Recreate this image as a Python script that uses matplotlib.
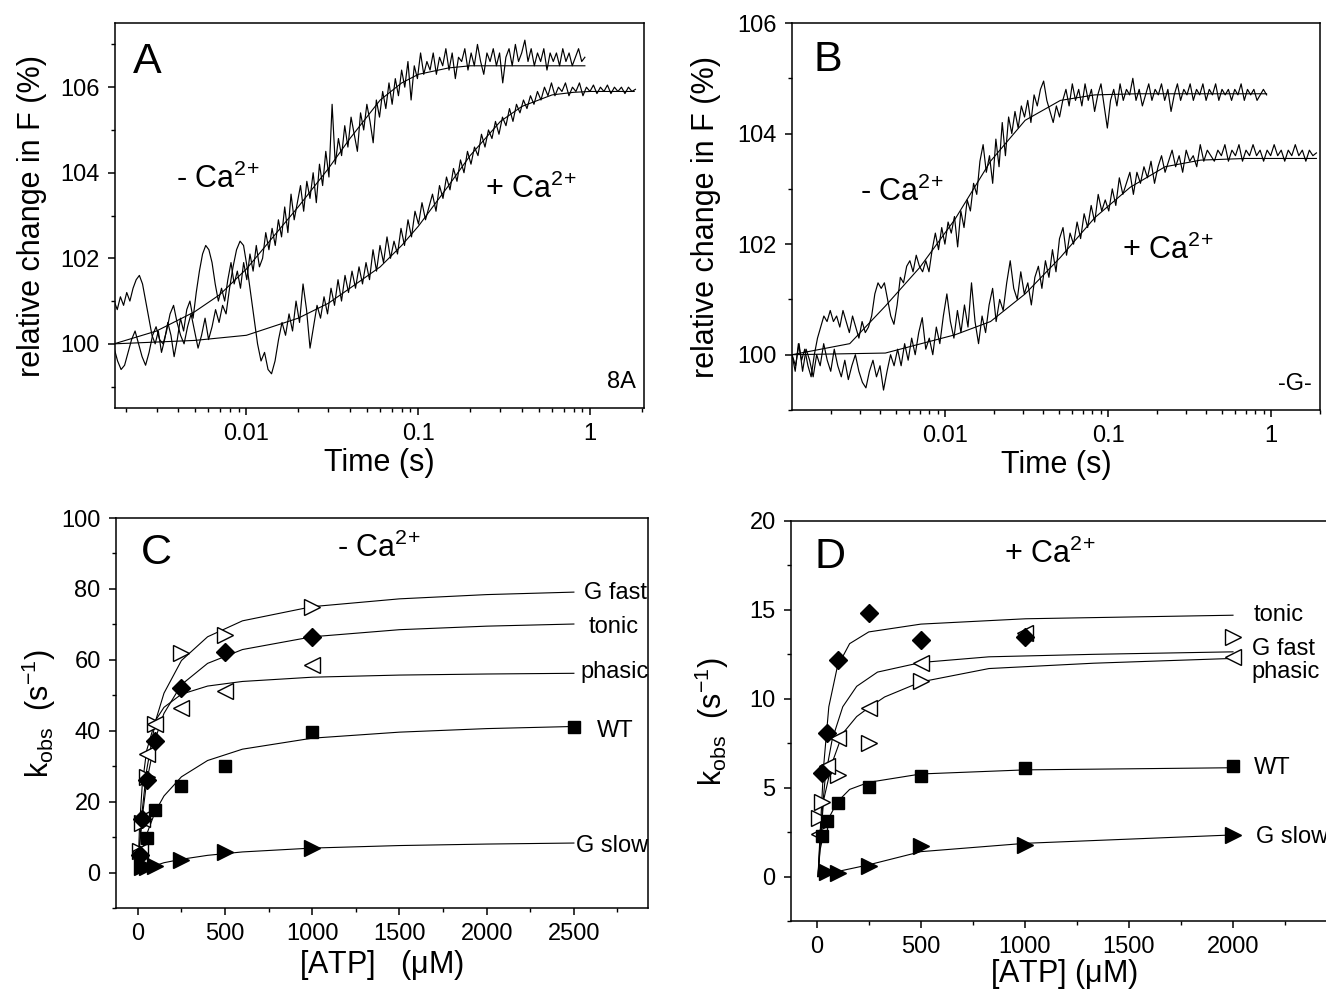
import numpy as np
import matplotlib.pyplot as plt
from matplotlib.ticker import LogLocator, NullFormatter, MultipleLocator

plt.rcParams['font.family'] = ['Liberation Sans', 'DejaVu Sans']
plt.rcParams['mathtext.default'] = 'regular'

# ---- panel A : stopped-flow traces (8A) ----
a_minus_trange = (0.0017, 0.93)
a_minus = [101.0, 100.8, 101.1, 100.9, 101.2, 101.0, 101.3, 101.5, 101.6, 101.4,
           101.0, 100.6, 100.2, 100.0, 100.3, 99.8, 100.1, 100.5, 100.2, 99.7,
           100.1, 100.6, 100.3, 100.8, 101.0, 100.6, 101.2, 101.7, 102.1, 102.3,
           102.2, 101.9, 101.4, 101.0, 101.3, 101.0, 101.5, 101.9, 101.4, 101.7,
           101.3, 101.9, 101.5, 102.1, 101.7, 102.3, 101.8, 102.0, 102.6, 102.2,
           102.7, 102.3, 102.9, 102.5, 103.2, 102.6, 103.5, 102.9, 103.3, 103.7,
           103.1, 103.8, 103.4, 104.0, 103.3, 104.2, 103.7, 104.5, 103.9, 105.6,
           104.2, 104.8, 104.4, 105.1, 104.6, 105.3, 104.9, 104.5, 105.4, 105.0,
           105.6, 105.2, 104.7, 105.7, 105.3, 105.9, 105.5, 106.1, 105.6, 106.2,
           105.8, 106.4, 106.0, 106.6, 105.7, 106.5, 106.2, 106.8, 106.3, 106.6,
           106.4, 106.8, 106.3, 106.7, 106.5, 106.9, 106.4, 106.8, 106.2, 106.7,
           106.6, 106.9, 106.4, 106.8, 106.5, 107.0, 106.6, 106.3, 106.8, 106.6,
           106.9, 106.5, 106.8, 106.1, 106.7, 106.9, 106.5, 107.0, 106.6, 106.8,
           107.1, 106.6, 106.9, 106.5, 106.8, 106.6, 106.9, 106.4, 106.8, 106.6,
           106.8, 106.5, 106.9, 106.6, 106.8, 106.5, 106.7, 106.9, 106.6, 106.7]
a_plus_trange = (0.0017, 1.83)
a_plus = [99.9, 99.6, 99.4, 99.5, 99.8, 100.1, 100.3, 100.0, 99.7, 99.5,
          99.8, 100.2, 100.4, 100.1, 100.0, 100.3, 100.7, 100.9, 100.5, 100.2,
          100.0, 100.4, 100.7, 100.3, 99.9, 100.2, 100.6, 100.1, 100.4, 100.8,
          100.5, 100.9, 100.7, 101.3, 101.8, 102.2, 102.4, 102.3, 101.8, 101.2,
          100.6, 100.0, 99.6, 99.8, 99.4, 99.3, 99.6, 100.1, 100.5, 100.2,
          100.7, 100.3, 101.0, 100.5, 101.4, 100.8, 99.9, 100.4, 100.9, 100.6,
          101.1, 100.7, 101.3, 100.9, 101.5, 101.0, 101.6, 101.2, 101.7, 101.3,
          101.8, 101.4, 101.9, 101.5, 102.2, 101.7, 102.3, 101.9, 102.5, 102.0,
          102.4, 102.1, 102.7, 102.3, 102.9, 102.5, 103.1, 102.8, 103.3, 102.9,
          103.2, 103.5, 103.1, 103.7, 103.4, 103.9, 103.6, 104.1, 103.8, 104.3,
          104.0, 104.5, 104.2, 104.6, 104.4, 104.9, 104.6, 105.0, 104.8, 105.2,
          104.9, 105.3, 105.1, 105.5, 105.2, 105.6, 105.4, 105.7, 105.5, 105.8,
          105.6, 105.9, 105.7, 106.0, 105.8, 106.1, 105.8, 106.0, 105.9, 106.1,
          105.8, 106.0, 105.9, 106.1, 105.8, 106.0, 105.9, 106.05, 105.85, 106.0,
          105.9, 106.05, 105.85, 106.0, 105.9, 106.0, 105.85, 106.0, 105.9, 105.95]
a_fit_minus_t = [0.0017, 0.003, 0.005, 0.007, 0.01, 0.015, 0.02, 0.03, 0.04, 0.06,
                 0.08, 0.1, 0.15, 0.2, 0.3, 0.5, 0.93]
a_fit_minus = [100.0, 100.3, 100.75, 101.15, 101.75, 102.6, 103.2, 104.1, 104.8, 105.7,
               106.1, 106.3, 106.45, 106.5, 106.5, 106.5, 106.5]
a_fit_plus_t = [0.0017, 0.005, 0.01, 0.02, 0.03, 0.04, 0.06, 0.08, 0.1, 0.15,
                0.2, 0.3, 0.4, 0.6, 0.8, 1.0, 1.8]
a_fit_plus = [100.0, 100.08, 100.2, 100.6, 100.95, 101.3, 101.8, 102.3, 102.75, 103.7,
              104.4, 105.2, 105.55, 105.82, 105.88, 105.9, 105.9]

# ---- panel B : stopped-flow traces (-G-) ----
b_minus_trange = (0.00115, 0.94)
b_minus = [100.0, 99.7, 100.2, 99.9, 100.1, 99.8, 99.6, 100.0, 100.3, 100.5,
           100.7, 100.6, 100.8, 100.6, 100.7, 100.5, 100.8, 100.6, 100.4, 100.7,
           100.5, 100.3, 100.6, 100.4, 100.5, 100.7, 101.1, 101.3, 101.2, 101.3,
           101.0, 100.7, 100.55, 100.9, 101.4, 101.3, 101.6, 101.7, 101.5, 101.8,
           101.6, 101.5, 101.7, 101.5, 101.9, 102.2, 101.9, 102.3, 102.0, 102.4,
           102.2, 102.5, 101.95, 102.6, 102.3, 102.8, 102.6, 103.1, 102.9, 103.5,
           103.8, 103.3, 103.6, 103.1, 103.9, 103.4, 104.2, 103.6, 104.3, 104.0,
           104.4, 104.1, 104.5, 104.3, 104.6, 104.2, 104.7, 104.5, 104.8, 104.95,
           104.6, 104.4, 104.2, 104.5, 104.3, 104.6, 104.8, 104.5, 104.9, 104.6,
           104.8, 104.5, 104.9, 104.6, 104.8, 104.4, 104.7, 104.9, 104.5, 104.1,
           104.6, 104.8, 104.5, 104.9, 104.6, 104.8, 104.7, 105.0, 104.6, 104.8,
           104.5, 104.7, 104.9, 104.6, 104.8, 104.7, 104.9, 104.6, 104.8, 104.4,
           104.7, 104.9, 104.6, 104.8, 104.7, 104.9, 104.6, 104.8, 104.7, 104.9,
           104.6, 104.8, 104.7, 104.9, 104.6, 104.8, 104.7, 104.8, 104.6, 104.8,
           104.7, 104.9, 104.6, 104.8, 104.7, 104.8, 104.6, 104.7, 104.8, 104.7]
b_plus_trange = (0.00115, 1.9)
b_plus = [100.0, 99.8, 100.2, 99.7, 100.1, 99.9, 99.6, 100.0, 99.8, 100.2,
          99.9, 99.7, 100.1, 99.8, 99.6, 99.9, 99.55, 99.8, 100.0, 99.7,
          99.5, 99.4, 99.7, 99.9, 99.6, 99.8, 99.36, 99.7, 100.0, 99.8,
          100.1, 99.8, 100.2, 99.9, 100.3, 100.0, 100.4, 100.67, 100.1, 100.3,
          100.0, 100.5, 100.2, 100.7, 101.1, 100.6, 100.3, 100.8, 100.4, 100.9,
          100.5, 101.3, 100.6, 100.2, 100.7, 100.4, 100.9, 101.2, 100.6, 101.0,
          100.8, 101.3, 101.7, 101.2, 101.0, 101.5, 101.1, 101.3, 100.9, 101.4,
          101.6, 101.2, 101.7, 101.4, 101.9, 101.5, 102.1, 102.3, 101.8, 102.2,
          102.0, 102.4, 102.1, 102.55, 102.3, 102.7, 102.4, 102.9, 102.6, 102.8,
          102.6, 103.0, 102.7, 103.2, 102.9, 103.1, 103.3, 102.9, 103.3, 103.1,
          103.4, 103.2, 103.5, 103.1, 103.4, 103.6, 103.3, 103.5, 103.7, 103.4,
          103.6, 103.3, 103.7, 103.5, 103.6, 103.4, 103.8, 103.5, 103.7, 103.6,
          103.5, 103.7, 103.6, 103.8, 103.5, 103.7, 103.6, 103.8, 103.5, 103.7,
          103.6, 103.8, 103.6, 103.7, 103.5, 103.7, 103.6, 103.8, 103.6, 103.7,
          103.5, 103.7, 103.6, 103.8, 103.6, 103.7, 103.5, 103.7, 103.6, 103.65]
b_fit_minus_t = [0.00115, 0.0026, 0.0043, 0.007, 0.0115, 0.019, 0.031, 0.051, 0.083, 0.15, 0.3, 0.94]
b_fit_minus = [100.0, 100.2, 100.88, 101.58, 102.45, 103.5, 104.24, 104.6, 104.7, 104.72, 104.72, 104.72]
b_fit_plus_t = [0.00115, 0.0043, 0.0115, 0.019, 0.031, 0.051, 0.083, 0.137, 0.224, 0.37, 0.7, 1.9]
b_fit_plus = [100.0, 100.03, 100.36, 100.6, 101.1, 101.76, 102.48, 103.03, 103.4, 103.52, 103.55, 103.55]

# ---- panel C : kobs vs ATP, - Ca2+ ----
c_atp = [10, 25, 50, 100, 250, 500, 1000]
c_gfast = [6, 14, 27, 42, 62, 67, 75]
c_tonic = [5, 15, 26, 37, 52, 62.3, 66.5]
c_phasic = [6, 15, 33.5, 42, 46.3, 51.3, 58.4]
c_wt_atp = [50, 100, 250, 500, 1000, 2500]
c_wt = [9.8, 17.5, 24.3, 30.0, 39.5, 41.0]
c_gslow_atp = [25, 50, 100, 250, 500, 1000]
c_gslow = [1.5, 1.7, 1.9, 3.6, 5.8, 6.8]
c_fit_atp = [0, 10, 25, 50, 100, 150, 250, 400, 600, 1000, 1500, 2000, 2500]
c_fit_gfast = [0, 7.96, 17.4, 28.7, 42.5, 50.6, 59.8, 66.5, 71.0, 75.0, 77.2, 78.4, 79.1]
c_fit_tonic = [0, 7.0, 15.4, 25.4, 37.7, 44.9, 53.0, 59.0, 62.9, 66.5, 68.5, 69.5, 70.1]
c_fit_phasic = [0, 13.2, 24.5, 34.3, 42.8, 46.6, 50.3, 52.6, 53.9, 55.1, 55.7, 56.0, 56.2]
c_fit_wt = [0, 2.66, 6.1, 10.7, 17.2, 21.6, 27.0, 31.6, 34.8, 37.9, 39.6, 40.6, 41.2]
c_fit_gslow = [0, 0.24, 0.58, 1.09, 1.96, 2.77, 3.74, 4.85, 5.81, 6.90, 7.61, 8.03, 8.32]

# ---- panel D : kobs vs ATP, + Ca2+ ----
d_tonic_atp = [25, 50, 100, 250, 500, 1000]
d_tonic = [5.8, 8.1, 12.2, 14.8, 13.3, 13.5]
d_gfast_atp = [10, 25, 100, 250, 500, 2000]
d_gfast = [3.3, 4.2, 5.7, 7.5, 11.0, 13.5]
d_phasic_atp = [10, 50, 100, 250, 500, 1000, 2000]
d_phasic = [2.4, 6.2, 7.8, 9.5, 12.0, 13.7, 12.35]
d_wt_atp = [25, 50, 100, 250, 500, 1000, 2000]
d_wt = [2.3, 3.15, 4.15, 5.05, 5.65, 6.1, 6.2]
d_gslow_atp = [50, 100, 250, 500, 1000, 2000]
d_gslow = [0.25, 0.22, 0.6, 1.7, 1.75, 2.35]
d_fit_tonic_atp = [5, 15, 32, 57, 98, 157, 249, 500, 1003, 2000]
d_fit_tonic = [0, 2.4, 6.2, 9.55, 11.8, 13.1, 13.76, 14.2, 14.5, 14.7]
d_fit_phasic_atp = [5, 20, 40, 73, 124, 191, 291, 500, 827, 1330, 2000]
d_fit_phasic = [0, 3.0, 5.6, 7.7, 9.55, 10.7, 11.5, 12.04, 12.36, 12.5, 12.64]
d_fit_gfast_atp = [5, 20, 32, 73, 124, 191, 249, 325, 500, 827, 1330, 2000]
d_fit_gfast = [0, 2.5, 4.3, 6.4, 8.05, 9.0, 9.5, 10.1, 10.95, 11.7, 12.0, 12.27]
d_fit_wt_atp = [5, 15, 32, 53, 98, 157, 249, 500, 1003, 2000]
d_fit_wt = [0, 1.5, 2.4, 3.2, 4.2, 4.9, 5.3, 5.77, 6.0, 6.12]
d_fit_gslow_atp = [5, 48, 98, 249, 500, 1003, 2000]
d_fit_gslow = [0, 0.1, 0.28, 0.66, 1.4, 1.87, 2.34]

TICK = 17
LAB = 22
CA_M = r'- Ca$^{2\!+}$'
CA_P = r'+ Ca$^{2\!+}$'

fig = plt.figure(figsize=(13.26, 9.92), dpi=100)
axA = fig.add_axes([0.0867, 0.5887, 0.3989, 0.3881])
axB = fig.add_axes([0.5973, 0.5867, 0.3982, 0.3901])
axC = fig.add_axes([0.0875, 0.0847, 0.4012, 0.3931])
axD = fig.add_axes([0.5965, 0.0716, 0.4118, 0.4032])


def style(ax):
    for s in ax.spines.values():
        s.set_linewidth(1.1)
    ax.tick_params(which='major', direction='out', length=5, width=1.1, labelsize=TICK, pad=6)
    ax.tick_params(which='minor', direction='out', length=3, width=1.0)


def trace_panel(ax, tm, ym, tp, yp, fmt, fpt, fp, xlim, ylim, yticks):
    ax.plot(np.geomspace(*tm, len(ym)), ym, color='k', lw=0.85)
    ax.plot(np.geomspace(*tp, len(yp)), yp, color='k', lw=0.85)
    ax.plot(fmt[0], fmt[1], color='k', lw=0.8)
    ax.plot(fpt, fp, color='k', lw=0.8)
    ax.set_xscale('log')
    ax.set_xlim(*xlim)
    ax.set_ylim(*ylim)
    ax.set_xticks([0.01, 0.1, 1])
    ax.set_xticklabels(['0.01', '0.1', '1'])
    ax.xaxis.set_minor_locator(LogLocator(base=10, subs=np.arange(2, 10)))
    ax.xaxis.set_minor_formatter(NullFormatter())
    ax.set_yticks(yticks)
    ax.yaxis.set_minor_locator(MultipleLocator(1))
    ax.set_xlabel('Time (s)', fontsize=LAB, labelpad=2)
    ax.set_ylabel('relative change in F (%)', fontsize=LAB)
    style(ax)


trace_panel(axA, a_minus_trange, a_minus, a_plus_trange, a_plus,
            (a_fit_minus_t, a_fit_minus), a_fit_plus_t, a_fit_plus,
            (0.00172, 2.05), (98.5, 107.5), [100, 102, 104, 106])
axA.yaxis.set_label_coords(-0.128, 0.5)
axA.text(0.0022, 106.6, 'A', fontsize=31, va='center')
axA.text(0.0039, 103.85, CA_M, fontsize=LAB, va='center')
axA.text(0.245, 103.6, CA_P, fontsize=LAB, va='center')
axA.text(0.985, 0.04, '8A', fontsize=TICK, ha='right', va='bottom', transform=axA.transAxes)

trace_panel(axB, b_minus_trange, b_minus, b_plus_trange, b_plus,
            (b_fit_minus_t, b_fit_minus), b_fit_plus_t, b_fit_plus,
            (0.00115, 2.0), (99.0, 106.0), [100, 102, 104, 106])
axB.yaxis.set_label_coords(-0.135, 0.5)
axB.text(0.00155, 105.33, 'B', fontsize=31, va='center')
axB.text(0.003, 102.94, CA_M, fontsize=LAB, va='center')
axB.text(0.121, 101.88, CA_P, fontsize=LAB, va='center')
axB.text(0.985, 0.04, '-G-', fontsize=TICK, ha='right', va='bottom', transform=axB.transAxes)

# panel C
lk = dict(color='k', lw=0.8)
mk = dict(ls='none', color='k', mec='k', mew=1.0)
axC.plot(c_fit_atp, c_fit_gfast, **lk)
axC.plot(c_fit_atp, c_fit_tonic, **lk)
axC.plot(c_fit_atp, c_fit_phasic, **lk)
axC.plot(c_fit_atp, c_fit_wt, **lk)
axC.plot(c_fit_atp, c_fit_gslow, **lk)
axC.plot(c_atp, c_gfast, marker='>', ms=12, mfc='white', **mk)
axC.plot(c_atp, c_phasic, marker='<', ms=12, mfc='white', **mk)
axC.plot(c_atp, c_tonic, marker='D', ms=9, **mk)
axC.plot(c_wt_atp, c_wt, marker='s', ms=8, **mk)
axC.plot(c_gslow_atp, c_gslow, marker='>', ms=12, **mk)
axC.set_xlim(-125, 2925)
axC.set_ylim(-10, 100)
axC.set_xticks([0, 500, 1000, 1500, 2000, 2500])
axC.xaxis.set_minor_locator(MultipleLocator(250))
axC.set_yticks([0, 20, 40, 60, 80, 100])
axC.yaxis.set_minor_locator(MultipleLocator(10))
axC.set_xlabel(r'[ATP]   ($\mu$M)', fontsize=LAB, labelpad=2)
axC.set_ylabel(r'k$_{obs}$  (s$^{-1}$)', fontsize=LAB)
axC.yaxis.set_label_coords(-0.11, 0.5)
style(axC)
axC.text(20, 90, 'C', fontsize=31, va='center')
axC.text(1380, 91.5, CA_M, fontsize=LAB, va='center', ha='center')
for lbl, x, y in [('G fast', 2557, 78.9), ('tonic', 2586, 69.3), ('phasic', 2540, 56.6),
                  ('WT', 2631, 40), ('G slow', 2511, 7.5)]:
    axC.text(x, y, lbl, fontsize=TICK, va='center')

# panel D
axD.plot(d_fit_tonic_atp, d_fit_tonic, **lk)
axD.plot(d_fit_phasic_atp, d_fit_phasic, **lk)
axD.plot(d_fit_gfast_atp, d_fit_gfast, **lk)
axD.plot(d_fit_wt_atp, d_fit_wt, **lk)
axD.plot(d_fit_gslow_atp, d_fit_gslow, **lk)
axD.plot(d_gfast_atp, d_gfast, marker='>', ms=12, mfc='white', **mk)
axD.plot(d_phasic_atp, d_phasic, marker='<', ms=12, mfc='white', **mk)
axD.plot(d_tonic_atp, d_tonic, marker='D', ms=9, **mk)
axD.plot(d_wt_atp, d_wt, marker='s', ms=8, **mk)
axD.plot(d_gslow_atp, d_gslow, marker='>', ms=12, **mk)
axD.set_xlim(-125, 2500)
axD.set_ylim(-2.5, 20)
axD.set_xticks([0, 500, 1000, 1500, 2000])
axD.xaxis.set_minor_locator(MultipleLocator(250))
axD.set_yticks([0, 5, 10, 15, 20])
axD.yaxis.set_minor_locator(MultipleLocator(2.5))
axD.set_xlabel(r'[ATP] ($\mu$M)', fontsize=LAB, labelpad=-1)
axD.set_ylabel(r'k$_{obs}$  (s$^{-1}$)', fontsize=LAB)
axD.yaxis.set_label_coords(-0.11, 0.5)
style(axD)
axD.text(-10, 18.0, 'D', fontsize=31, va='center')
axD.text(1120, 18.1, CA_P, fontsize=LAB, va='center', ha='center')
for lbl, x, y in [('tonic', 2101, 14.7), ('G fast', 2090, 12.8), ('phasic', 2090, 11.5),
                  ('WT', 2101, 6.1), ('G slow', 2109, 2.25)]:
    axD.text(x, y, lbl, fontsize=TICK, va='center')

fig.savefig('out.png', dpi=100)
